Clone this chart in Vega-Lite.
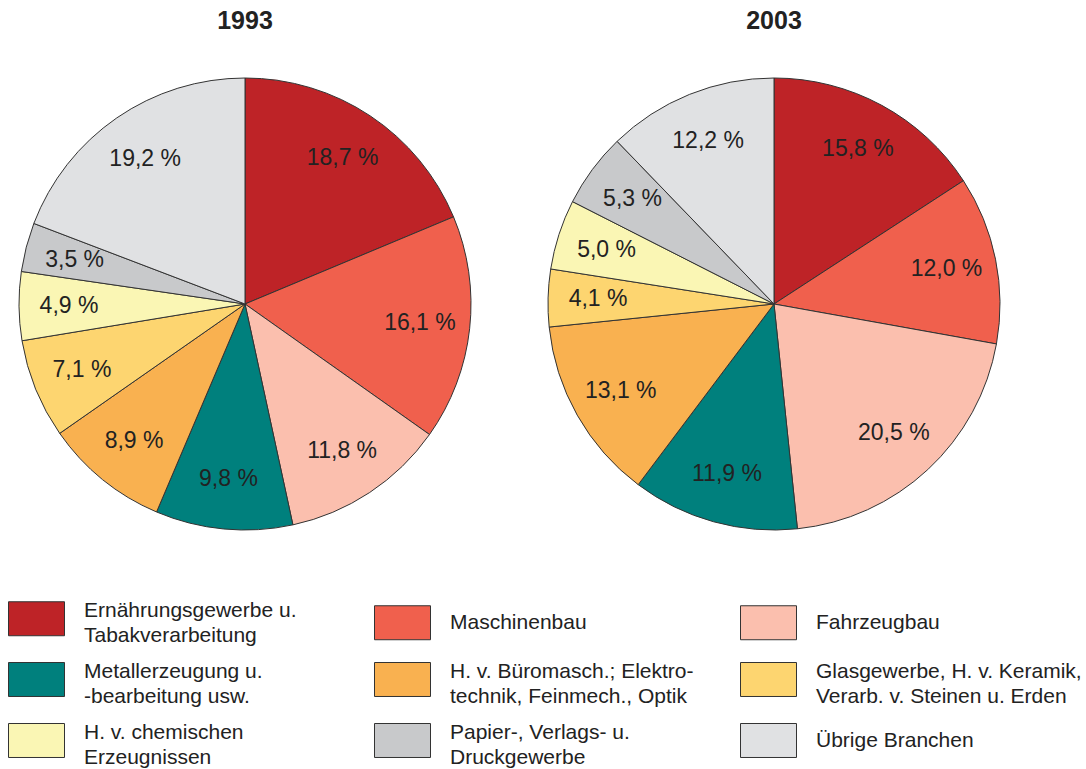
{
  "$schema": "https://vega.github.io/schema/vega-lite/v6.json",
  "background": "white",
  "padding": {"left": 5, "right": 5, "top": 9, "bottom": 0},
  "data": {"values": [
    {"year": "1993", "k": 1, "branche": "Ernährungsgewerbe u.|Tabakverarbeitung", "value": 18.7, "label": "18,7 %"},
    {"year": "1993", "k": 2, "branche": "Maschinenbau", "value": 16.1, "label": "16,1 %"},
    {"year": "1993", "k": 3, "branche": "Fahrzeugbau", "value": 11.8, "label": "11,8 %"},
    {"year": "1993", "k": 4, "branche": "Metallerzeugung u.|-bearbeitung usw.", "value": 9.8, "label": "9,8 %"},
    {"year": "1993", "k": 5, "branche": "H. v. Büromasch.; Elektro-|technik, Feinmech., Optik", "value": 8.9, "label": "8,9 %"},
    {"year": "1993", "k": 6, "branche": "Glasgewerbe, H. v. Keramik,|Verarb. v. Steinen u. Erden", "value": 7.1, "label": "7,1 %"},
    {"year": "1993", "k": 7, "branche": "H. v. chemischen|Erzeugnissen", "value": 4.9, "label": "4,9 %"},
    {"year": "1993", "k": 8, "branche": "Papier-, Verlags- u.|Druckgewerbe", "value": 3.5, "label": "3,5 %"},
    {"year": "1993", "k": 9, "branche": "Übrige Branchen", "value": 19.2, "label": "19,2 %"},
    {"year": "2003", "k": 1, "branche": "Ernährungsgewerbe u.|Tabakverarbeitung", "value": 15.8, "label": "15,8 %"},
    {"year": "2003", "k": 2, "branche": "Maschinenbau", "value": 12.0, "label": "12,0 %"},
    {"year": "2003", "k": 3, "branche": "Fahrzeugbau", "value": 20.5, "label": "20,5 %"},
    {"year": "2003", "k": 4, "branche": "Metallerzeugung u.|-bearbeitung usw.", "value": 11.9, "label": "11,9 %"},
    {"year": "2003", "k": 5, "branche": "H. v. Büromasch.; Elektro-|technik, Feinmech., Optik", "value": 13.1, "label": "13,1 %"},
    {"year": "2003", "k": 6, "branche": "Glasgewerbe, H. v. Keramik,|Verarb. v. Steinen u. Erden", "value": 4.1, "label": "4,1 %"},
    {"year": "2003", "k": 7, "branche": "H. v. chemischen|Erzeugnissen", "value": 5.0, "label": "5,0 %"},
    {"year": "2003", "k": 8, "branche": "Papier-, Verlags- u.|Druckgewerbe", "value": 5.3, "label": "5,3 %"},
    {"year": "2003", "k": 9, "branche": "Übrige Branchen", "value": 12.2, "label": "12,2 %"}
  ]},
  "facet": {
    "column": {
      "field": "year", "type": "nominal", "title": null,
      "header": {"labelFont": "Liberation Sans", "labelFontSize": 25, "labelFontWeight": "bold", "labelColor": "#222222", "labelPadding": 30}
    }
  },
  "spacing": 49,
  "spec": {
    "width": 480,
    "height": 480,
    "layer": [
      {
        "mark": {"type": "arc", "outerRadius": 226, "stroke": "#333333", "strokeWidth": 1},
        "encoding": {
          "theta": {"field": "value", "type": "quantitative", "stack": true},
          "order": {"field": "k", "type": "quantitative", "sort": "ascending"},
          "color": {
            "field": "branche", "type": "nominal", "sort": null,
            "scale": {
              "domain": ["Ernährungsgewerbe u.|Tabakverarbeitung", "Maschinenbau", "Fahrzeugbau", "Metallerzeugung u.|-bearbeitung usw.", "H. v. Büromasch.; Elektro-|technik, Feinmech., Optik", "Glasgewerbe, H. v. Keramik,|Verarb. v. Steinen u. Erden", "H. v. chemischen|Erzeugnissen", "Papier-, Verlags- u.|Druckgewerbe", "Übrige Branchen"],
              "range": ["#BE2327", "#F0604D", "#FBBFAE", "#00807D", "#F9B150", "#FDD570", "#FAF6B4", "#C8C9CB", "#E0E1E3"]
            },
            "legend": {
              "title": null,
              "orient": "none",
              "legendX": 3,
              "legendY": 526,
              "direction": "horizontal",
              "columns": 3,
              "gridAlign": "all",
              "columnPadding": 22,
              "rowPadding": 5,
              "symbolType": "M-1,-0.607L1,-0.607L1,0.607L-1,0.607Z",
              "symbolSize": 3136,
              "symbolStrokeColor": "#333333",
              "symbolStrokeWidth": 1,
              "symbolOpacity": 1,
              "labelFont": "Liberation Sans",
              "labelFontSize": 21,
              "labelColor": "#222222",
              "labelOffset": 19,
              "labelLimit": 400,
              "labelExpr": "split(datum.label, '|')",
              "encode": {
                "labels": {"update": {
                  "dy": {"signal": "indexof(datum.label, '|') >= 0 ? -8 : 0"},
                  "lineHeight": {"value": 25}
                }}
              }
            }
          }
        }
      },
      {
        "mark": {"type": "text", "radius": 176, "font": "Liberation Sans", "fontSize": 23, "color": "#222222"},
        "encoding": {
          "theta": {"field": "value", "type": "quantitative", "stack": true},
          "order": {"field": "k", "type": "quantitative", "sort": "ascending"},
          "text": {"field": "label", "type": "nominal"}
        }
      }
    ]
  },
  "config": {"view": {"stroke": null}}
}
